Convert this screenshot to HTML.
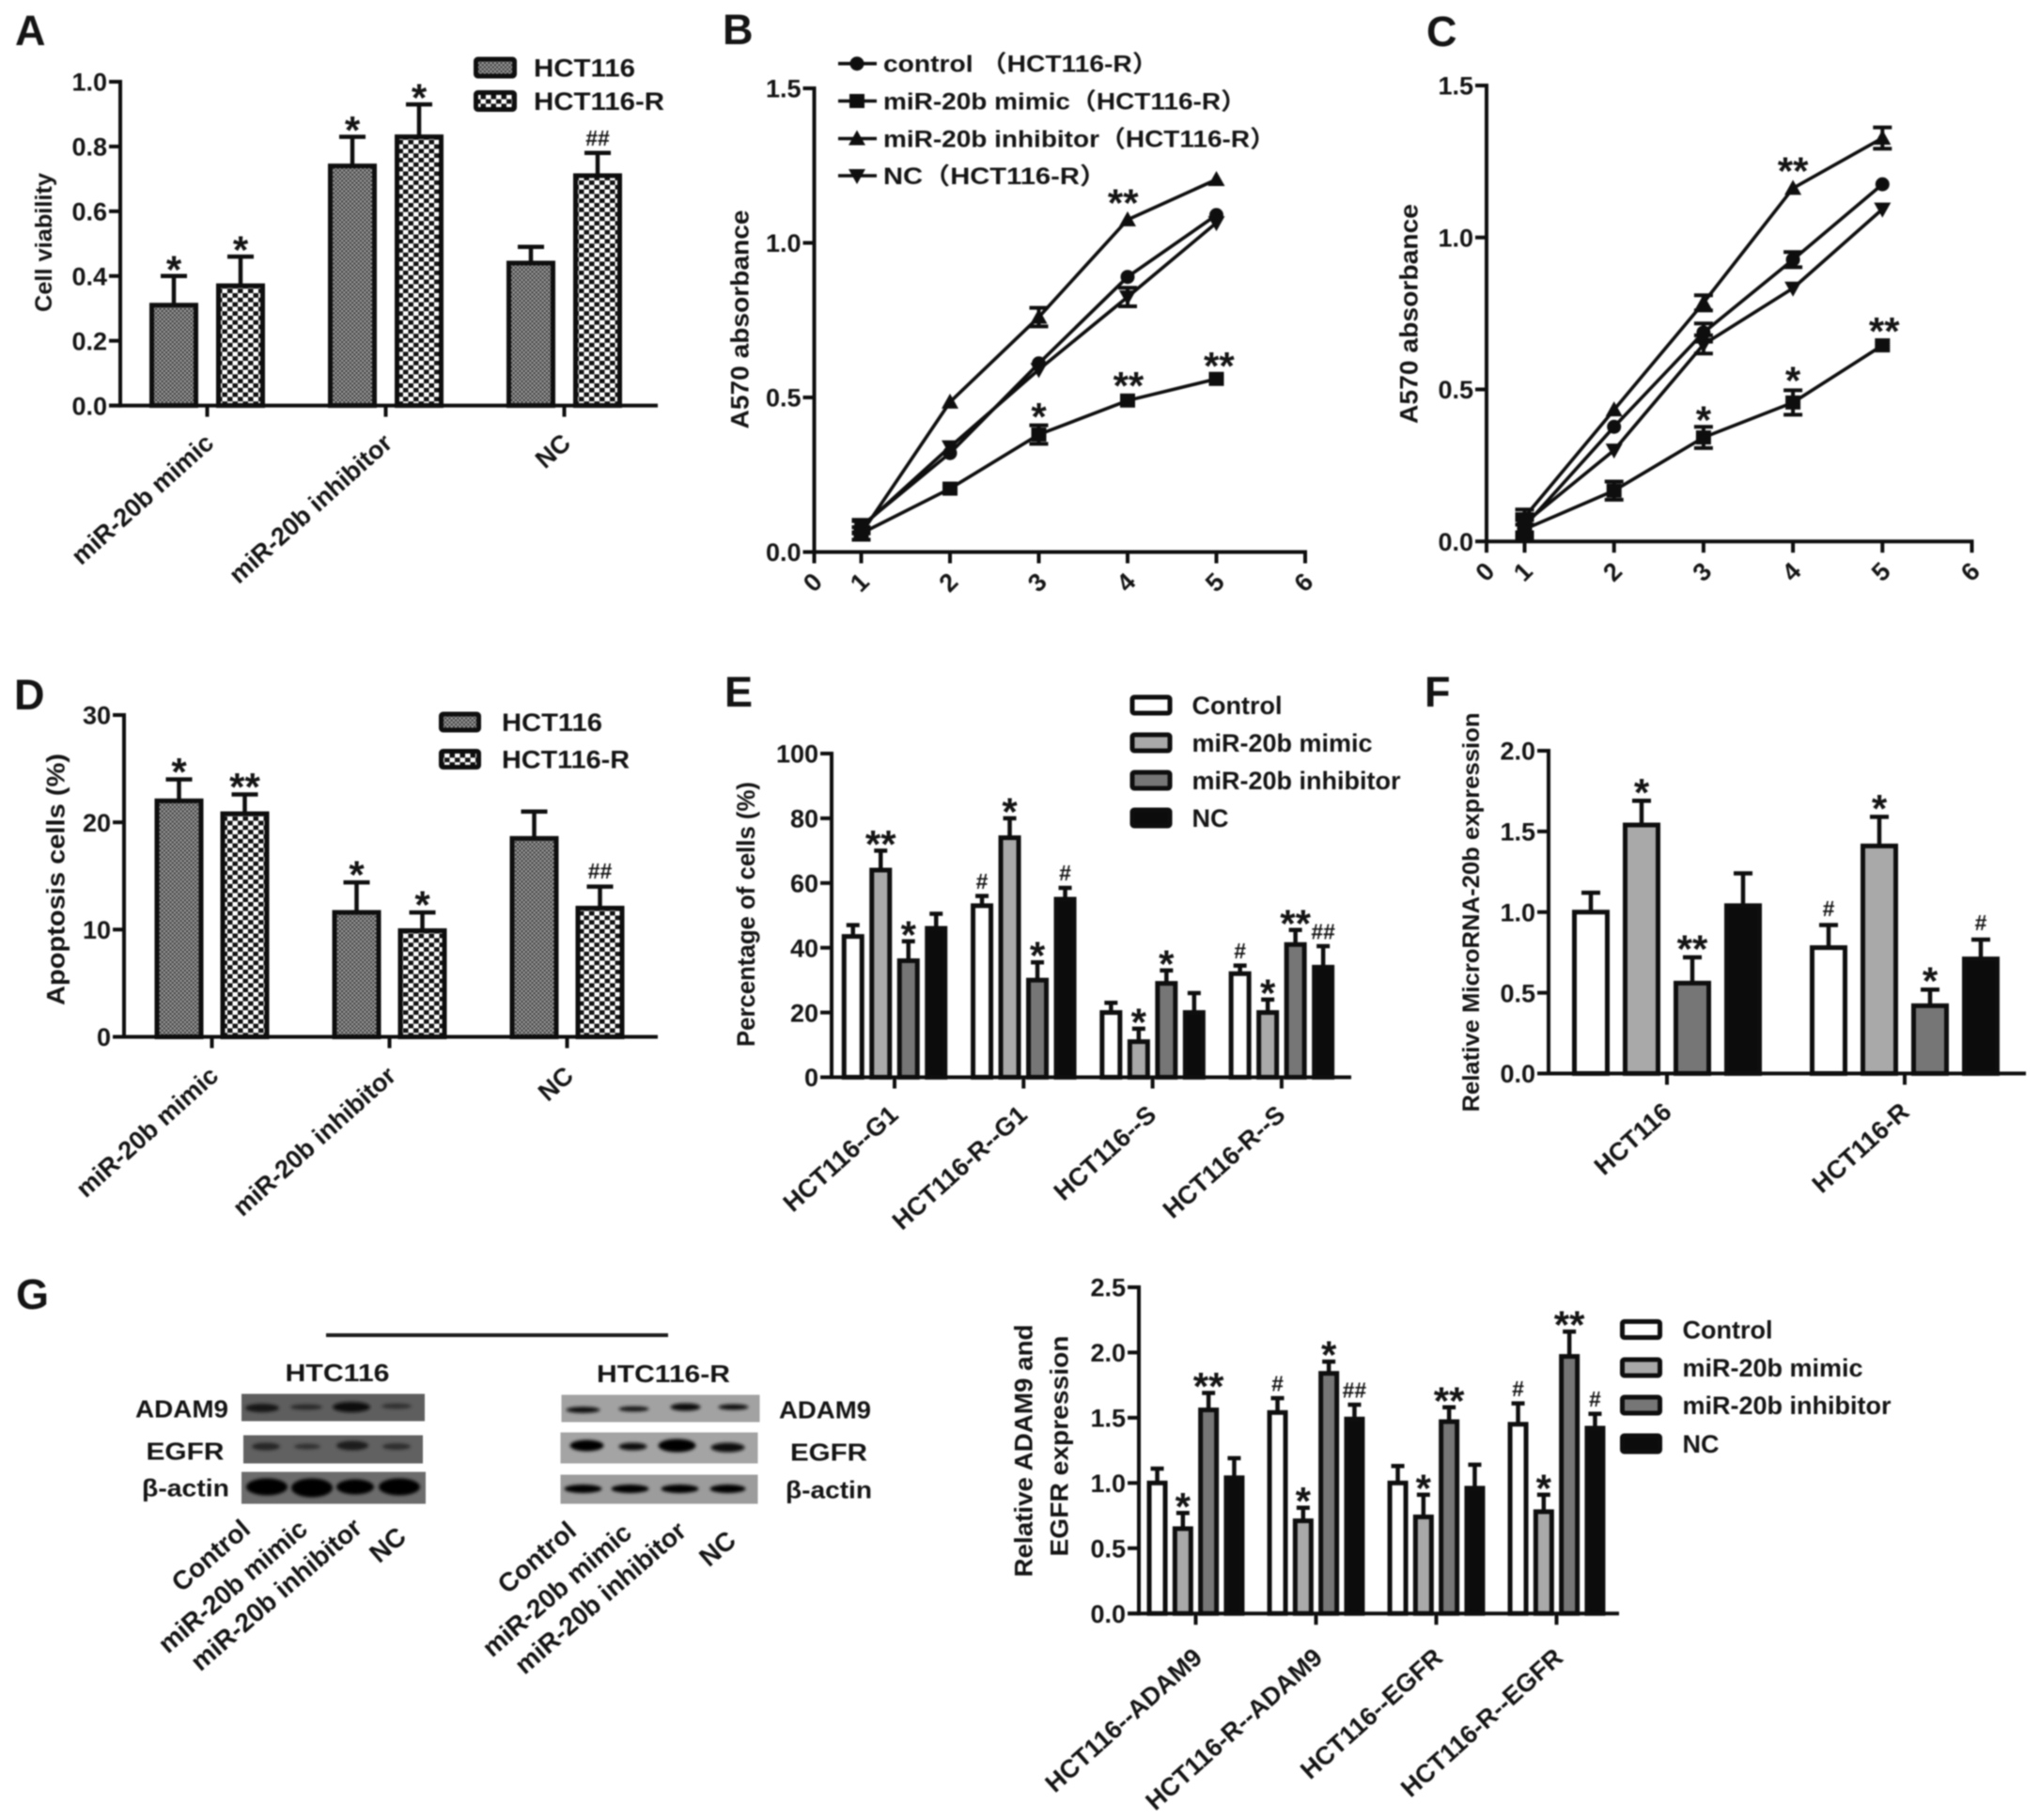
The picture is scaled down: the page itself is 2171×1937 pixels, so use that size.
<!DOCTYPE html>
<html lang="en">
<head>
<meta charset="utf-8">
<title>miR-20b multi-panel figure</title>
<style>
html,body{margin:0;padding:0;background:#fff;}
svg{display:block;filter:blur(.7px);}
text{font-family:"Liberation Sans","Noto Sans CJK SC",sans-serif;font-weight:bold;fill:#141414;}
</style>
</head>
<body>
<svg id="figure" width="2171" height="1937" viewBox="0 0 2171 1937">
  <defs>
    <pattern id="fine" width="4.4" height="4.4" patternUnits="userSpaceOnUse">
      <rect width="4.4" height="4.4" fill="#a6a6a6"/>
      <rect width="2.2" height="2.2" fill="#3a3a3a"/>
      <rect x="2.2" y="2.2" width="2.2" height="2.2" fill="#3a3a3a"/>
    </pattern>
    <pattern id="coarse" width="11" height="9.6" patternUnits="userSpaceOnUse">
      <rect width="11" height="9.6" fill="#fff"/>
      <rect width="5.5" height="4.8" fill="#111"/>
      <rect x="5.5" y="4.8" width="5.5" height="4.8" fill="#111"/>
    </pattern>
    <filter id="bandblur" x="-30%" y="-60%" width="160%" height="220%"><feGaussianBlur stdDeviation="1.6"/></filter>
  </defs>

  <g font-size="45">
    <text x="16" y="48">A</text>
    <text x="769" y="47">B</text>
    <text x="1518" y="49">C</text>
    <text x="15" y="755">D</text>
    <text x="771" y="752">E</text>
    <text x="1516" y="752">F</text>
    <text x="17" y="1393">G</text>
  </g>

  <g id="panel-a"></g>
  <g id="panel-b"></g>
  <g id="panel-c"></g>
  <g id="panel-d"></g>
  <g id="panel-e"></g>
  <g id="panel-f"></g>
  <g id="panel-g"></g>

  <g>
    <rect x="347" y="1419" width="364" height="4" fill="#1c1c1c"/>
    <text x="359" y="1470" font-size="26" text-anchor="middle" textLength="111" lengthAdjust="spacingAndGlyphs">HTC116</text>
    <text x="706" y="1471" font-size="26" text-anchor="middle" textLength="142" lengthAdjust="spacingAndGlyphs">HTC116-R</text>

    <g transform="translate(-1 -1.5)">
    <rect x="258" y="1485" width="195" height="29" fill="#5e5e5e"/>
    <rect x="260" y="1529" width="191" height="30" fill="#616161"/>
    <rect x="258" y="1568" width="196" height="34" fill="#6c6c6c"/>
    <g filter="url(#bandblur)">
      <ellipse cx="280" cy="1500" rx="18" ry="4.5" fill="#151515"/>
      <ellipse cx="327" cy="1499" rx="17" ry="3" fill="#2c2c2c"/>
      <ellipse cx="375" cy="1499" rx="20" ry="5.5" fill="#0e0e0e"/>
      <ellipse cx="423" cy="1498" rx="16" ry="3" fill="#303030"/>
      <ellipse cx="284" cy="1541" rx="15" ry="4" fill="#262626"/>
      <ellipse cx="328" cy="1541" rx="14" ry="3" fill="#333"/>
      <ellipse cx="376" cy="1540" rx="17" ry="5" fill="#1a1a1a"/>
      <ellipse cx="423" cy="1541" rx="15" ry="3.5" fill="#2e2e2e"/>
      <ellipse cx="285" cy="1584" rx="22" ry="9" fill="#060606"/>
      <ellipse cx="333" cy="1585" rx="22" ry="10" fill="#060606"/>
      <ellipse cx="379" cy="1584" rx="20" ry="8" fill="#060606"/>
      <ellipse cx="426" cy="1584" rx="22" ry="9" fill="#060606"/>
    </g>
    </g>

    <g transform="translate(-2.5 -1.5)">
    <rect x="600" y="1486" width="211" height="29" fill="#a2a2a2"/>
    <rect x="599" y="1526" width="210" height="33" fill="#a4a4a4"/>
    <rect x="599" y="1571" width="210" height="31" fill="#9c9c9c"/>
    <g filter="url(#bandblur)">
      <ellipse cx="623" cy="1502" rx="18" ry="3.2" fill="#0c0c0c"/>
      <ellipse cx="677" cy="1501" rx="16" ry="2.8" fill="#141414"/>
      <ellipse cx="732" cy="1499" rx="16" ry="4" fill="#0a0a0a"/>
      <ellipse cx="783" cy="1499" rx="16" ry="3" fill="#0c0c0c"/>
      <ellipse cx="627" cy="1540" rx="18" ry="6" fill="#060606"/>
      <ellipse cx="676" cy="1541" rx="15" ry="4" fill="#0a0a0a"/>
      <ellipse cx="723" cy="1540" rx="20" ry="7" fill="#060606"/>
      <ellipse cx="777" cy="1542" rx="18" ry="5" fill="#080808"/>
      <ellipse cx="623" cy="1586" rx="20" ry="4.5" fill="#060606"/>
      <ellipse cx="673" cy="1586" rx="20" ry="4.5" fill="#060606"/>
      <ellipse cx="726" cy="1586" rx="20" ry="4.5" fill="#060606"/>
      <ellipse cx="777" cy="1586" rx="19" ry="4.5" fill="#060606"/>
    </g>
    </g>

    <g font-size="26">
      <text x="243" y="1508.5" text-anchor="end" textLength="99" lengthAdjust="spacingAndGlyphs">ADAM9</text>
      <text x="197" y="1553.5" text-anchor="middle" textLength="83" lengthAdjust="spacingAndGlyphs">EGFR</text>
      <text x="244" y="1592.5" text-anchor="end" textLength="93" lengthAdjust="spacingAndGlyphs">β-actin</text>
      <text x="829" y="1509.5" textLength="98" lengthAdjust="spacingAndGlyphs">ADAM9</text>
      <text x="841" y="1554.5" textLength="82" lengthAdjust="spacingAndGlyphs">EGFR</text>
      <text x="836" y="1594.5" textLength="92" lengthAdjust="spacingAndGlyphs">β-actin</text>
    </g>
    <g font-size="28" text-anchor="end">
      <text transform="translate(261.5 1622.5) rotate(-41)" y="10">Control</text>
      <text transform="translate(322.5 1622.5) rotate(-41)" y="10">miR-20b mimic</text>
      <text transform="translate(380.5 1621) rotate(-41)" y="10">miR-20b inhibitor</text>
      <text transform="translate(427.5 1630.5) rotate(-41)" y="10">NC</text>
      <text transform="translate(608.5 1624.5) rotate(-41)" y="10">Control</text>
      <text transform="translate(667.5 1626.5) rotate(-41)" y="10">miR-20b mimic</text>
      <text transform="translate(725.5 1624.5) rotate(-41)" y="10">miR-20b inhibitor</text>
      <text transform="translate(778.5 1634.5) rotate(-41)" y="10">NC</text>
    </g>
  </g>
</svg>

<script>
/* ---------- Panel A data ---------- */
const aCategories = ['miR-20b mimic', 'miR-20b inhibitor', 'NC'];
const aSeriesNames = ['HCT116', 'HCT116-R'];
const aYTicks = ['0.0', '0.2', '0.4', '0.6', '0.8', '1.0'];
const aHct116 = [0.31, 0.74, 0.44];
const aHct116Err = [0.09, 0.09, 0.05];
const aHct116Marks = ['*', '*', ''];
const aHct116R = [0.37, 0.83, 0.71];
const aHct116RErr = [0.09, 0.10, 0.07];
const aHct116RMarks = ['*', '*', '##'];

/* ---------- Panel D data ---------- */
const dCategories = ['miR-20b mimic', 'miR-20b inhibitor', 'NC'];
const dSeriesNames = ['HCT116', 'HCT116-R'];
const dYTicks = ['0', '10', '20', '30'];
const dHct116 = [22, 11.6, 18.5];
const dHct116Err = [2, 2.8, 2.5];
const dHct116Marks = ['*', '*', ''];
const dHct116R = [20.8, 9.9, 12];
const dHct116RErr = [1.8, 1.7, 2];
const dHct116RMarks = ['**', '*', '##'];

/* ---------- Panel E data ---------- */
const eCategories = ['HCT116--G1', 'HCT116-R--G1', 'HCT116--S', 'HCT116-R--S'];
const eSeriesNames = ['Control', 'miR-20b mimic', 'miR-20b inhibitor', 'NC'];
const eYTicks = ['0', '20', '40', '60', '80', '100'];
const eControl = [43.5, 53, 20, 32];
const eControlErr = [3.5, 3, 3, 2.5];
const eControlMarks = ['', '#', '', '#'];
const eMimic = [64, 74, 11, 20];
const eMimicErr = [6, 6, 4, 4];
const eMimicMarks = ['**', '*', '*', '*'];
const eInhibitor = [36, 30, 29, 41];
const eInhibitorErr = [6, 5.5, 4, 4.5];
const eInhibitorMarks = ['*', '*', '*', '**'];
const eNC = [46, 55, 20, 34];
const eNCErr = [4.5, 3.5, 6, 6.5];
const eNCMarks = ['', '#', '', '##'];

/* ---------- Panel F data ---------- */
const fCategories = ['HCT116', 'HCT116-R'];
const fYTicks = ['0.0', '0.5', '1.0', '1.5', '2.0'];
const fControl = [1.0, 0.78];
const fControlErr = [0.12, 0.14];
const fControlMarks = ['', '#'];
const fMimic = [1.54, 1.41];
const fMimicErr = [0.15, 0.18];
const fMimicMarks = ['*', '*'];
const fInhibitor = [0.56, 0.42];
const fInhibitorErr = [0.16, 0.10];
const fInhibitorMarks = ['**', '*'];
const fNC = [1.04, 0.71];
const fNCErr = [0.20, 0.12];
const fNCMarks = ['', '#'];

/* ---------- Panel G data ---------- */
const gCategories = ['HCT116--ADAM9', 'HCT116-R--ADAM9', 'HCT116--EGFR', 'HCT116-R--EGFR'];
const gSeriesNames = ['Control', 'miR-20b mimic', 'miR-20b inhibitor', 'NC'];
const gYTicks = ['0.0', '0.5', '1.0', '1.5', '2.0', '2.5'];
const gControl = [1.0, 1.54, 1.0, 1.45];
const gControlErr = [0.11, 0.11, 0.13, 0.16];
const gControlMarks = ['', '#', '', '#'];
const gMimic = [0.65, 0.71, 0.74, 0.78];
const gMimicErr = [0.12, 0.10, 0.17, 0.13];
const gMimicMarks = ['*', '*', '*', '*'];
const gInhibitor = [1.56, 1.84, 1.47, 1.97];
const gInhibitorErr = [0.13, 0.09, 0.11, 0.19];
const gInhibitorMarks = ['**', '*', '**', '**'];
const gNC = [1.04, 1.49, 0.96, 1.42];
const gNCErr = [0.15, 0.11, 0.18, 0.11];
const gNCMarks = ['', '##', '', '#'];

/* ---------- Panel B data ---------- */
const lineXValues = [1, 2, 3, 4, 5];
const lineXTicks = ['0', '1', '2', '3', '4', '5', '6'];
const lineYTicks = ['0.0', '0.5', '1.0', '1.5'];
const bControl = [0.084, 0.32, 0.61, 0.89, 1.09];
const bControlErr = [0.02, 0, 0, 0, 0];
const bMimic = [0.06, 0.205, 0.38, 0.49, 0.56];
const bMimicErr = [0.02, 0, 0.03, 0, 0];
const bInhibitor = [0.06, 0.485, 0.76, 1.075, 1.205];
const bInhibitorErr = [0.02, 0, 0.03, 0, 0];
const bNC = [0.08, 0.34, 0.59, 0.825, 1.065];
const bNCErr = [0.02, 0, 0, 0.03, 0];
const bMarkX = [3.95, 5.03, 4.01, 3];
const bMarkY = [1.157, 0.63, 0.566, 0.465];
const bMarkText = ['**', '**', '**', '*'];
const bLegendLabels = ['control （HCT116-R）', 'miR-20b mimic（HCT116-R）', 'miR-20b inhibitor（HCT116-R）', 'NC（HCT116-R）'];

/* ---------- Panel C data ---------- */
const cControl = [0.05, 0.377, 0.687, 0.927, 1.175];
const cControlErr = [0.03, 0, 0.03, 0.025, 0];
const cMimic = [0.04, 0.167, 0.342, 0.457, 0.645];
const cMimicErr = [0.03, 0.03, 0.035, 0.04, 0];
const cInhibitor = [0.08, 0.433, 0.785, 1.162, 1.327];
const cInhibitorErr = [0.025, 0, 0.025, 0, 0.035];
const cNC = [0.06, 0.30, 0.648, 0.833, 1.093];
const cNCErr = [0.03, 0, 0.03, 0, 0];
const cMarkX = [4, 5.02, 4, 3];
const cMarkY = [1.246, 0.72, 0.557, 0.427];
const cMarkText = ['**', '**', '*', '*'];

const svgRoot = document.getElementById('figure');
const INK = '#0e0e0e';

function node(parent, tag, attrs, name) {
  const el = document.createElementNS(svgRoot.namespaceURI, tag);
  for (const k in attrs) el.setAttribute(k, attrs[k]);
  
  
  parent.appendChild(el);
  return el;
}

function label(parent, str, x, y, size, opts, name) {
  const o = opts || {};
  const attrs = { x: x, y: y + 0.36 * size, 'font-size': size, 'text-anchor': o.anchor || 'start' };
  if (o.rot) attrs.transform = 'rotate(' + o.rot + ' ' + x + ' ' + y + ')';
  if (o.len) { attrs.textLength = o.len; attrs.lengthAdjust = 'spacingAndGlyphs'; }
  const t = node(parent, 'text', attrs, name);
  t.textContent = str;
  return t;
}

function seg(parent, x1, y1, x2, y2, w, name) {
  return node(parent, 'line', { x1: x1, y1: y1, x2: x2, y2: y2, stroke: INK, 'stroke-width': w }, name);
}

function annotation(parent, text, x, yCenter) {
  if (!text) return;
  if (text.charAt(0) === '#') {
    label(parent, text, x, yCenter, 23, { anchor: 'middle' }, 'significance-hash').setAttribute('font-weight', 'normal');
  } else {
    const t = node(parent, 'text', { x: x, y: yCenter + 0.56 * 42, 'font-size': 42, 'text-anchor': 'middle' }, 'significance-star');
    t.textContent = text;
  }
}

function yAxis(g, cfg, scale, ticks) {
  seg(g, cfg.axisX, cfg.yTop - 2, cfg.axisX, cfg.y0 + 2, 4, 'y-axis-line');
  ticks.forEach(function (t) {
    const y = scale(Number(t));
    seg(g, cfg.axisX - 12, y, cfg.axisX, y, 4, 'y-axis-tick');
    label(g, t, cfg.axisX - 14, y, 27, { anchor: 'end' }, 'y-axis-tick-label');
  });
}

function barChart(id, cfg, categories, ticks, series) {
  const g = document.getElementById(id);
  const yScale = function (v) { return cfg.y0 - (v / cfg.yMax) * (cfg.y0 - cfg.yTop); };
  const groupX = function (i) { return cfg.x1 + i * cfg.step; };
  const n = series.length;
  series.forEach(function (s, si) {
    s.values.forEach(function (v, i) {
      const cx = groupX(i) + (si - (n - 1) / 2) * cfg.barStep;
      const top = yScale(v);
      const errTop = yScale(v + s.errors[i]);
      seg(g, cx, top, cx, errTop, 4.5, 'error-bar-stem');
      seg(g, cx - cfg.cap / 2, errTop, cx + cfg.cap / 2, errTop, 4.5, 'error-bar-cap');
      node(g, 'rect', {
        x: cx - cfg.barW / 2 + 2.5, y: top, width: cfg.barW - 5, height: cfg.y0 - top,
        fill: s.fill, stroke: INK, 'stroke-width': 5
      }, 'bar');
      annotation(g, s.marks[i], cx, errTop - cfg.markGap);
    });
  });
  yAxis(g, cfg, yScale, ticks);
  seg(g, cfg.xStart, cfg.y0, cfg.xEnd, cfg.y0, 4, 'x-axis-line');
  categories.forEach(function (c, i) {
    const x = groupX(i);
    seg(g, x, cfg.y0, x, cfg.y0 + 12, 4, 'x-axis-tick');
    label(g, c, x + cfg.labelDx, cfg.y0 + cfg.labelDy, 27, { anchor: 'end', rot: -42 }, 'category-label');
  });
}

function legend(id, lay, names, fills) {
  const g = document.getElementById(id);
  names.forEach(function (nm, i) {
    node(g, 'rect', {
      x: lay.x + 2.5, y: lay.rows[i] - lay.h / 2 + 2.5, width: lay.w - 5, height: lay.h - 5,
      rx: 2, fill: fills[i], stroke: INK, 'stroke-width': 5
    }, 'legend-swatch');
    label(g, nm, lay.textX, lay.rows[i], 27, { len: lay.lens ? lay.lens[i] : 0 }, 'legend-label');
  });
}

function marker(g, kind, x, y) {
  if (kind === 'circle') {
    node(g, 'circle', { cx: x, cy: y, r: 7.5, fill: INK }, 'marker-circle');
  } else if (kind === 'square') {
    node(g, 'rect', { x: x - 8, y: y - 7.5, width: 16, height: 15, fill: INK }, 'marker-square');
  } else if (kind === 'up') {
    node(g, 'polygon', { points: (x - 9) + ',' + (y + 7) + ' ' + (x + 9) + ',' + (y + 7) + ' ' + x + ',' + (y - 9), fill: INK }, 'marker-triangle-up');
  } else {
    node(g, 'polygon', { points: (x - 9) + ',' + (y - 7) + ' ' + (x + 9) + ',' + (y - 7) + ' ' + x + ',' + (y + 9), fill: INK }, 'marker-triangle-down');
  }
}

function lineChart(id, cfg, series, markX, markY, markText) {
  const g = document.getElementById(id);
  const yScale = function (v) { return cfg.y0 - (v / cfg.yMax) * (cfg.y0 - cfg.yTop); };
  const xScale = function (v) { return Math.max(cfg.x1 + (v - 1) * cfg.step, cfg.axisX); };
  yAxis(g, cfg, yScale, lineYTicks);
  seg(g, cfg.axisX - 2, cfg.y0, xScale(6) + 2, cfg.y0, 4, 'x-axis-line');
  lineXTicks.forEach(function (t) {
    const x = xScale(Number(t));
    seg(g, x, cfg.y0, x, cfg.y0 + 12, 4, 'x-axis-tick');
    label(g, t, x - 2, cfg.y0 + 32, 27, { anchor: 'middle', rot: -45 }, 'x-axis-tick-label');
  });
  series.forEach(function (s) {
    const pts = s.values.map(function (v, i) { return xScale(lineXValues[i]) + ',' + yScale(v); }).join(' ');
    node(g, 'polyline', { points: pts, fill: 'none', stroke: INK, 'stroke-width': 3.6 }, 'series-line');
    s.values.forEach(function (v, i) {
      const x = xScale(lineXValues[i]);
      const y = yScale(v);
      if (s.errors[i] > 0) {
        const hi = yScale(v + s.errors[i]);
        const lo = yScale(v - s.errors[i]);
        seg(g, x, hi, x, lo, 4, 'error-bar-stem');
        seg(g, x - 10, hi, x + 10, hi, 4, 'error-bar-cap');
        seg(g, x - 10, lo, x + 10, lo, 4, 'error-bar-cap');
      }
      marker(g, s.kind, x, y);
    });
  });
  markX.forEach(function (mx, i) {
    annotation(g, markText[i], cfg.x1 + (mx - 1) * cfg.step, yScale(markY[i]));
  });
}

const twoFills = ['url(#fine)', 'url(#coarse)'];
const fourFills = ['#ffffff', '#a9a9a9', '#767676', '#0c0c0c'];

barChart('panel-a', { axisX: 128, yTop: 87, y0: 431.6, yMax: 1, xStart: 116, xEnd: 700, x1: 220.5, step: 190, barStep: 71, barW: 52, cap: 28, markGap: 16, labelDx: 2, labelDy: 35 },
  aCategories, aYTicks, [
    { values: aHct116, errors: aHct116Err, marks: aHct116Marks, fill: twoFills[0] },
    { values: aHct116R, errors: aHct116RErr, marks: aHct116RMarks, fill: twoFills[1] }
  ]);
legend('panel-a', { x: 504, w: 46, h: 23, textX: 568, rows: [72, 107.5], lens: [108, 139] }, aSeriesNames, twoFills);
label(document.getElementById('panel-a'), 'Cell viability', 46, 258, 25, { anchor: 'middle', rot: -90, len: 148 }, 'y-axis-title');

barChart('panel-d', { axisX: 132, yTop: 761, y0: 1103.5, yMax: 30, xStart: 120, xEnd: 700, x1: 225.5, step: 189, barStep: 70, barW: 52, cap: 28, markGap: 17, labelDx: 2, labelDy: 36.5 },
  dCategories, dYTicks, [
    { values: dHct116, errors: dHct116Err, marks: dHct116Marks, fill: twoFills[0] },
    { values: dHct116R, errors: dHct116RErr, marks: dHct116RMarks, fill: twoFills[1] }
  ]);
legend('panel-d', { x: 467, w: 45, h: 22, textX: 534, rows: [768.5, 808], lens: [107, 136] }, dSeriesNames, twoFills);
label(document.getElementById('panel-d'), 'Apoptosis cells (%)', 59, 936, 27, { anchor: 'middle', rot: -90, len: 268 }, 'y-axis-title');

barChart('panel-e', { axisX: 885, yTop: 802, y0: 1146.5, yMax: 100, xStart: 873, xEnd: 1438, x1: 952, step: 137.3, barStep: 29.5, barW: 24, cap: 14, markGap: 16, labelDx: -1, labelDy: 35 },
  eCategories, eYTicks, [
    { values: eControl, errors: eControlErr, marks: eControlMarks, fill: fourFills[0] },
    { values: eMimic, errors: eMimicErr, marks: eMimicMarks, fill: fourFills[1] },
    { values: eInhibitor, errors: eInhibitorErr, marks: eInhibitorMarks, fill: fourFills[2] },
    { values: eNC, errors: eNCErr, marks: eNCMarks, fill: fourFills[3] }
  ]);
legend('panel-e', { x: 1202.5, w: 45, h: 22, textX: 1268.5, rows: [750.5, 790.5, 830.5, 870.5] }, eSeriesNames, fourFills);
label(document.getElementById('panel-e'), 'Percentage of cells (%)', 793.5, 973, 27, { anchor: 'middle', rot: -90, len: 282 }, 'y-axis-title');

barChart('panel-f', { axisX: 1648, yTop: 799, y0: 1142.5, yMax: 2, xStart: 1637, xEnd: 2156, x1: 1774, step: 253, barStep: 54, barW: 40, cap: 20, markGap: 18, labelDx: 0, labelDy: 36 },
  fCategories, fYTicks, [
    { values: fControl, errors: fControlErr, marks: fControlMarks, fill: fourFills[0] },
    { values: fMimic, errors: fMimicErr, marks: fMimicMarks, fill: fourFills[1] },
    { values: fInhibitor, errors: fInhibitorErr, marks: fInhibitorMarks, fill: fourFills[2] },
    { values: fNC, errors: fNCErr, marks: fNCMarks, fill: fourFills[3] }
  ]);
label(document.getElementById('panel-f'), 'Relative MicroRNA-20b expression', 1565, 971, 25, { anchor: 'middle', rot: -90, len: 425 }, 'y-axis-title');

barChart('panel-g', { axisX: 1212, yTop: 1370, y0: 1717.2, yMax: 2.5, xStart: 1200, xEnd: 1723, x1: 1272.5, step: 128, barStep: 27.3, barW: 22, cap: 14, markGap: 16, labelDx: 2, labelDy: 42 },
  gCategories, gYTicks, [
    { values: gControl, errors: gControlErr, marks: gControlMarks, fill: fourFills[0] },
    { values: gMimic, errors: gMimicErr, marks: gMimicMarks, fill: fourFills[1] },
    { values: gInhibitor, errors: gInhibitorErr, marks: gInhibitorMarks, fill: fourFills[2] },
    { values: gNC, errors: gNCErr, marks: gNCMarks, fill: fourFills[3] }
  ]);
legend('panel-g', { x: 1724, w: 45, h: 22, textX: 1790.5, rows: [1415, 1455.5, 1495.5, 1536.5] }, gSeriesNames, fourFills);
label(document.getElementById('panel-g'), 'Relative ADAM9 and', 1089, 1544, 27, { anchor: 'middle', rot: -90, len: 269 }, 'y-axis-title-line-1');
label(document.getElementById('panel-g'), 'EGFR expression', 1127, 1539, 27, { anchor: 'middle', rot: -90, len: 235 }, 'y-axis-title-line-2');

lineChart('panel-b', { axisX: 866.5, yTop: 94, y0: 587.5, yMax: 1.5, x1: 916.5, step: 94.5 }, [
  { values: bControl, errors: bControlErr, kind: 'circle' },
  { values: bMimic, errors: bMimicErr, kind: 'square' },
  { values: bInhibitor, errors: bInhibitorErr, kind: 'up' },
  { values: bNC, errors: bNCErr, kind: 'down' }
], bMarkX, bMarkY, bMarkText);
label(document.getElementById('panel-b'), 'A570 absorbance', 787, 340, 27, { anchor: 'middle', rot: -90, len: 233 }, 'y-axis-title');

const bLegendKinds = ['circle', 'square', 'up', 'down'];
const bLegendLengths = [293, 387, 418, 238];
const bLegendRows = [67.7, 107.5, 147.5, 187];
bLegendLabels.forEach(function (t, i) {
  const g = document.getElementById('panel-b');
  seg(g, 892, bLegendRows[i], 933, bLegendRows[i], 3.6, 'legend-line');
  marker(g, bLegendKinds[i], 912, bLegendRows[i]);
  label(g, t, 940, bLegendRows[i], 25, { len: bLegendLengths[i] }, 'legend-label');
});

lineChart('panel-c', { axisX: 1582, yTop: 91, y0: 576.2, yMax: 1.5, x1: 1622.5, step: 95.2 }, [
  { values: cControl, errors: cControlErr, kind: 'circle' },
  { values: cMimic, errors: cMimicErr, kind: 'square' },
  { values: cInhibitor, errors: cInhibitorErr, kind: 'up' },
  { values: cNC, errors: cNCErr, kind: 'down' }
], cMarkX, cMarkY, cMarkText);
label(document.getElementById('panel-c'), 'A570 absorbance', 1499, 334, 27, { anchor: 'middle', rot: -90, len: 234 }, 'y-axis-title');
</script>
</body>
</html>
